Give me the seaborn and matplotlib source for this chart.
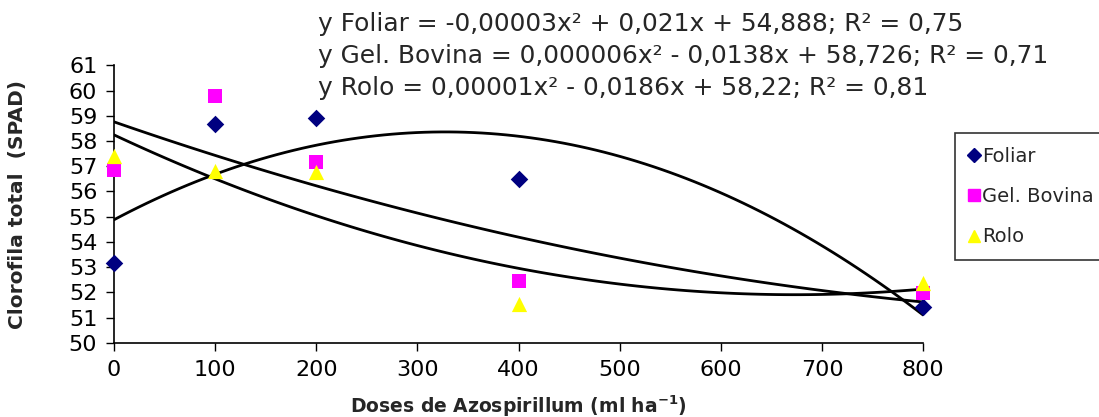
import pandas as pd
import matplotlib.pyplot as plt
import seaborn as sns
from matplotlib.lines import Line2D

# Data
doses = [0, 100, 200, 400, 800]
foliar = [53.17, 58.66, 58.93, 56.50, 51.43]
gel_bovina = [56.87, 59.77, 57.17, 52.46, 51.96]
rolo = [57.40, 56.80, 56.77, 51.53, 52.38]

series_names = ['Foliar', 'Gel. Bovina', 'Rolo']
colors = {'Foliar': '#000080', 'Gel. Bovina': '#FF00FF', 'Rolo': '#FFFF00'}
markers = {'Foliar': 'D', 'Gel. Bovina': 's', 'Rolo': '^'}
msizes = {'Foliar': 80, 'Gel. Bovina': 95, 'Rolo': 120}
equations = [
    'y Foliar = -0,00003x² + 0,021x + 54,888; R² = 0,75',
    'y Gel. Bovina = 0,000006x² - 0,0138x + 58,726; R² = 0,71',
    'y Rolo = 0,00001x² - 0,0186x + 58,22; R² = 0,81',
]

df = pd.DataFrame({
    'dose': doses * 3,
    'spad': foliar + gel_bovina + rolo,
    'serie': sum([[n] * len(doses) for n in series_names], []),
})

sns.set_style("white")
plt.rcParams['font.family'] = ['DejaVu Sans']

fig = plt.figure(figsize=(10.99, 4.17), dpi=100)
ax = fig.add_axes([0.1037, 0.1775, 0.7363, 0.666])

# Polynomial (order 2) trendlines
for name in series_names:
    sub = df[df['serie'] == name]
    sns.regplot(data=sub, x='dose', y='spad', order=2, ci=None, scatter=False,
                color='black', line_kws={'lw': 2.0}, ax=ax, truncate=True)

for name in series_names:
    sub = df[df['serie'] == name]
    sns.scatterplot(data=sub, x='dose', y='spad', color=colors[name],
                    marker=markers[name], s=msizes[name], linewidth=0,
                    legend=False, ax=ax, zorder=3, clip_on=False)

ax.set_xlim(0, 800)
ax.set_ylim(50, 61)
ax.set_xticks(range(0, 801, 100))
ax.set_yticks(range(50, 62))
ax.tick_params(axis='both', labelsize=16, direction='out', length=6, width=1,
               colors='black', left=True, bottom=True, pad=6)
for s in ['top', 'right']:
    ax.spines[s].set_visible(False)
for s in ['left', 'bottom']:
    ax.spines[s].set_color('black')
    ax.spines[s].set_linewidth(1.2)

ax.set_xlabel('Doses de Azospirillum (ml ha$^{\\mathregular{-1}}$)', fontsize=13.5,
              fontweight='bold', labelpad=10)
ax.set_ylabel('Clorofila total  (SPAD)', fontsize=14.5, fontweight='bold', labelpad=30)

for i, eq in enumerate(equations):
    fig.text(0.289, 0.942 - i * 0.077, eq, fontsize=17.9, va='center', ha='left')

handles = [Line2D([], [], marker=markers[n], color=colors[n], linestyle='none',
                  markersize=8 if n != 'Foliar' else 7) for n in series_names]
leg = ax.legend(handles, series_names, loc='upper left',
                bbox_to_anchor=(0.869, 0.681), bbox_transform=fig.transFigure,
                frameon=True, fancybox=False, fontsize=14, handlelength=0.6,
                handletextpad=0.1, borderpad=0.7, labelspacing=1.1,
                borderaxespad=0)
leg.get_frame().set_edgecolor('black')
leg.get_frame().set_linewidth(1.2)

plt.savefig('out.png', dpi=100)
